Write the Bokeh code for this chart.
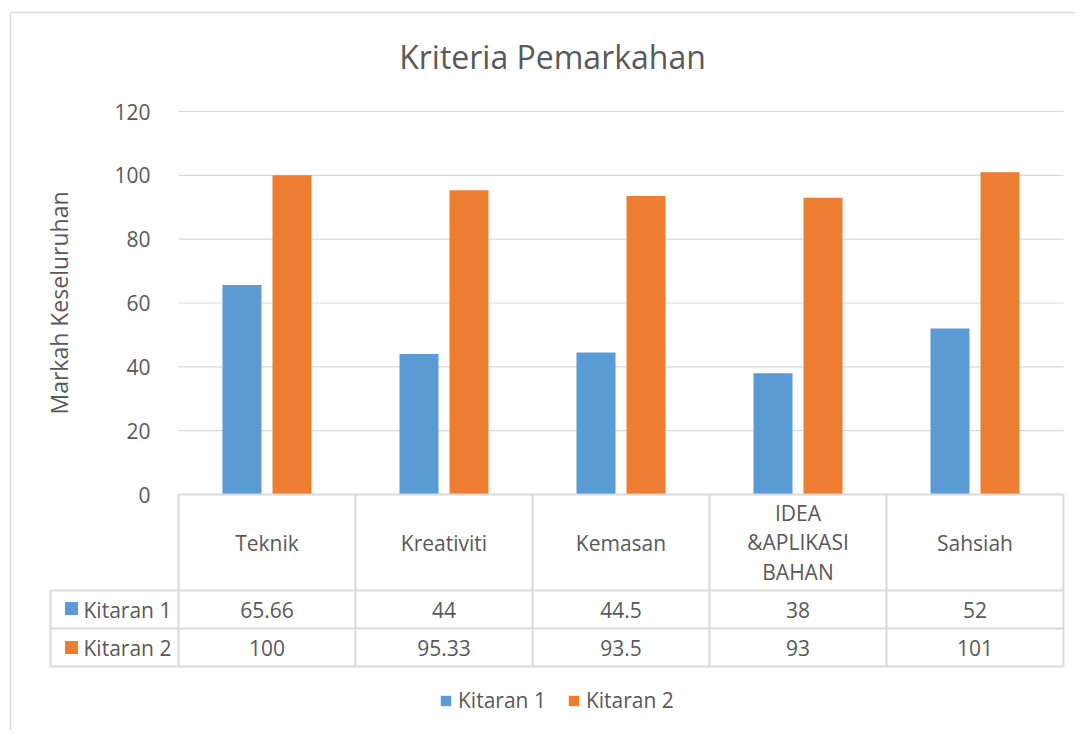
from bokeh.plotting import figure
from bokeh.models import Range1d, FixedTicker, Legend, LegendItem
from bokeh.core.properties import value
from bokeh.embed import file_html
from bokeh.resources import INLINE
import numpy as np

# ---------------- data ----------------
chart_title = "Kriteria Pemarkahan"
categories = ["Teknik", "Kreativiti", "Kemasan", "IDEA\n&APLIKASI\nBAHAN", "Sahsiah"]
series_names = ["Kitaran 1", "Kitaran 2"]
kitaran1 = [65.66, 44, 44.5, 38, 52]
kitaran2 = [100, 95.33, 93.5, 93, 101]
kitaran1_labels = ["65.66", "44", "44.5", "38", "52"]
kitaran2_labels = ["100", "95.33", "93.5", "93", "101"]
y_ticks = [0, 20, 40, 60, 80, 100, 120]
y_label = "Markah Keseluruhan"

# ---------------- style / layout ----------------
FONT = "Open Sans"
TEXT = "#595959"
GRID = "#d9d9d9"
BLUE = "#5B9BD5"
ORANGE = "#ED7D31"
W, H = 1075, 730
PXX = 177.0            # px per category
PXY = 383.0 / 120.0    # px per value unit
X_LEFT_PAGE = 178      # page px of x = -0.5
Y_ZERO_PAGE = 494      # page px of y = 0

def xd(px):  # page pixel -> data x
    return -0.5 + (px - X_LEFT_PAGE) / PXX

def yd(py):  # page pixel -> data y
    return (Y_ZERO_PAGE - py) / PXY

x0 = xd(0)
y1 = yd(0)
p = figure(width=W, height=H, output_backend="svg", toolbar_location=None,
           x_range=Range1d(x0, x0 + W / PXX), y_range=Range1d(y1 - H / PXY, y1),
           min_border=0, min_border_left=0, min_border_right=0,
           min_border_top=0, min_border_bottom=0)
p.outline_line_color = None
p.xaxis.visible = False
p.xgrid.visible = False
p.ygrid.visible = False
p.background_fill_color = "white"
p.border_fill_color = "white"

idx = np.arange(len(categories))
n = len(categories)

# chart-area border (left and top edges; right/bottom lie outside the window)
p.multi_line(xs=[[xd(10), xd(10)], [xd(10), xd(1200)]],
             ys=[[yd(12), yd(900)], [yd(12), yd(12)]],
             line_color=GRID, line_width=1.5)

# horizontal gridlines
gl = [t for t in y_ticks if t > 0]
p.segment(x0=[-0.5] * len(gl), x1=[n - 0.5] * len(gl), y0=gl, y1=gl,
          line_color=GRID, line_width=1.2)

# bars
off = 25 / PXX
bw = 39 / PXX
r1 = p.vbar(x=idx - off, top=kitaran1, width=bw, fill_color=BLUE, line_color=None)
r2 = p.vbar(x=idx + off, top=kitaran2, width=bw, fill_color=ORANGE, line_color=None)

# y axis
ax = p.yaxis[0]
ax.fixed_location = -0.5
ax.bounds = (min(y_ticks), max(y_ticks))
ax.ticker = FixedTicker(ticks=y_ticks)
ax.axis_line_color = None
ax.major_tick_line_color = None
ax.minor_tick_line_color = None
ax.major_label_text_font = FONT
ax.major_label_text_font_size = "21px"
ax.major_label_text_color = TEXT
ax.major_label_standoff = 22
ax.axis_label = y_label
ax.axis_label_text_font = FONT
ax.axis_label_text_font_size = "23px"
ax.axis_label_text_font_style = "normal"
ax.axis_label_text_color = TEXT
ax.axis_label_standoff = 36

# data table lines
r_hdr = yd(590); r_1 = yd(628); r_2 = yd(666)
xl = xd(50)
xs, ys = [], []
xs.append([-0.5, n - 0.5]); ys.append([0, 0])
for yy in (r_hdr, r_1, r_2):
    xs.append([xl, n - 0.5]); ys.append([yy, yy])
xs.append([xl, xl]); ys.append([r_hdr, r_2])
for b in range(n + 1):
    xs.append([b - 0.5, b - 0.5]); ys.append([0, r_2])
p.multi_line(xs=xs, ys=ys, line_color=GRID, line_width=2)

# header labels
p.text(x=idx, y=[yd(542)] * n, text=categories, text_font=value(FONT),
       text_font_size="21px", text_color=TEXT, text_align="center",
       text_baseline="middle", text_line_height=1.05)
# value rows
for labels, yy in ((kitaran1_labels, yd(609)), (kitaran2_labels, yd(647))):
    p.text(x=idx, y=[yy] * n, text=labels, text_font=value(FONT),
           text_font_size="21px", text_color=TEXT, text_align="center",
           text_baseline="middle")
# row keys
p.scatter(x=[xd(71)] * 2, y=[yd(608), yd(647)], marker="square", size=13,
          fill_color=[BLUE, ORANGE], line_color=None)
p.text(x=[xd(83)] * 2, y=[yd(609), yd(647)], text=series_names, text_font=value(FONT),
       text_font_size="21px", text_color=TEXT, text_align="left", text_baseline="middle")

# title
p.text(x=[xd(552)], y=[yd(56)], text=[chart_title], text_font=value(FONT),
       text_font_size="32px", text_color=TEXT, text_align="center", text_baseline="middle")

# legend
legend = Legend(items=[LegendItem(label=series_names[0], renderers=[r1]),
                       LegendItem(label=series_names[1], renderers=[r2])],
                orientation="horizontal", location=(439, 16))
legend.label_text_font = FONT
legend.label_text_font_size = "21px"
legend.label_text_color = TEXT
legend.glyph_width = 13
legend.glyph_height = 13
legend.label_standoff = 6
legend.spacing = 21
legend.padding = 0
legend.margin = 0
legend.border_line_color = None
legend.background_fill_alpha = 0
p.add_layout(legend)

open("out.html", "w").write(file_html(p, INLINE))
